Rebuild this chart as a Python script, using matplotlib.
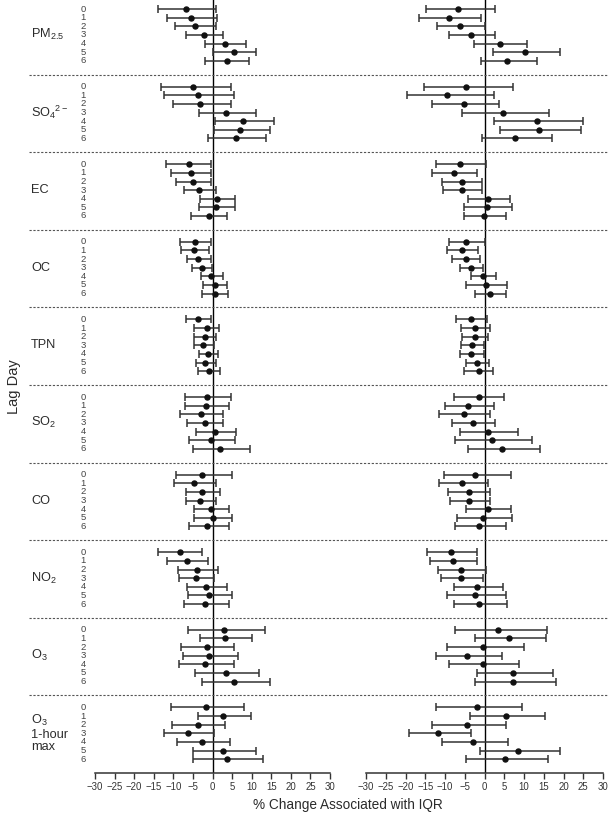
import matplotlib
matplotlib.use("Agg")
import matplotlib.pyplot as plt
from matplotlib.lines import Line2D
from matplotlib.transforms import blended_transform_factory

plt.rcParams["font.family"] = ["Liberation Sans", "DejaVu Sans"]
plt.rcParams["mathtext.fontset"] = "custom"
plt.rcParams["mathtext.rm"] = "Liberation Sans"
plt.rcParams["mathtext.it"] = "Liberation Sans:italic"
plt.rcParams["mathtext.default"] = "regular"

# Data: % change per IQR, lag days 0-6, estimate / lower / upper
pollutants = ["PM$_{2.5}$", "SO$_4$$^{2-}$", "EC", "OC", "TPN", "SO$_2$",
              "CO", "NO$_2$", "O$_3$", "O$_3$\n1-hour\nmax"]
lags = ["0", "1", "2", "3", "4", "5", "6"]

left_est = [
    [-6.8, -5.4, -4.4, -2.2, 3.1, 5.4, 3.7],
    [-4.9, -3.8, -3.1, 3.5, 7.9, 7.1, 6.0],
    [-6.1, -5.6, -5.0, -3.4, 1.2, 1.0, -1.0],
    [-4.5, -4.6, -3.6, -2.7, -0.3, 0.6, 0.6],
    [-3.6, -1.5, -2.0, -2.4, -1.1, -1.8, -1.0],
    [-1.3, -1.6, -2.9, -2.0, 0.6, -0.5, 2.0],
    [-2.6, -4.8, -2.6, -3.1, -0.5, 0.1, -1.3],
    [-8.3, -6.6, -4.0, -4.3, -1.6, -0.9, -1.8],
    [3.0, 3.2, -1.4, -0.8, -1.9, 3.4, 5.6],
    [-1.7, 2.8, -3.7, -6.3, -2.6, 2.8, 3.6],
]
left_lo = [
    [-13.8, -11.5, -9.5, -6.8, -2.0, 0.0, -1.9],
    [-13.1, -12.5, -10.1, -3.4, 0.6, 0.3, -1.1],
    [-11.8, -10.5, -9.4, -7.4, -3.2, -3.4, -5.4],
    [-8.4, -8.0, -6.6, -5.2, -3.0, -2.3, -2.6],
    [-6.8, -4.6, -4.7, -4.8, -3.5, -4.3, -3.7],
    [-7.1, -7.0, -8.2, -6.6, -4.3, -6.0, -5.0],
    [-9.3, -9.9, -6.7, -6.8, -4.7, -4.7, -6.1],
    [-13.9, -11.7, -8.9, -8.6, -6.6, -6.2, -7.3],
    [-6.3, -3.3, -8.0, -7.5, -8.6, -4.5, -2.7],
    [-10.6, -3.6, -10.3, -12.5, -9.1, -4.9, -4.9],
]
left_hi = [
    [0.9, 1.1, 1.0, 2.7, 8.6, 11.1, 9.3],
    [4.7, 5.6, 4.7, 11.0, 15.7, 14.6, 13.6],
    [-0.3, -0.4, -0.3, 1.0, 5.8, 5.7, 3.8],
    [-0.3, -0.9, -0.4, -0.1, 2.6, 3.8, 4.0],
    [-0.3, 1.6, 0.9, 0.3, 1.3, 0.8, 1.9],
    [4.8, 4.2, 2.8, 2.8, 6.0, 5.7, 9.6],
    [4.9, 0.8, 2.0, 1.0, 4.1, 5.1, 4.1],
    [-2.6, -1.1, 1.3, 0.3, 3.7, 4.9, 4.2],
    [13.4, 10.2, 5.6, 6.5, 5.6, 11.9, 14.7],
    [8.1, 9.8, 3.3, 0.3, 4.4, 11.2, 12.9],
]

right_est = [
    [-6.6, -9.1, -6.2, -3.5, 3.8, 10.3, 5.8],
    [-4.7, -9.4, -5.2, 4.6, 13.2, 13.7, 7.8],
    [-6.2, -7.8, -5.8, -5.8, 0.9, 0.6, -0.2],
    [-4.7, -5.6, -4.8, -3.5, -0.4, 0.4, 1.4],
    [-3.4, -2.4, -2.4, -3.2, -3.3, -1.9, -1.5],
    [-1.5, -4.1, -5.2, -3.0, 0.8, 1.8, 4.5],
    [-2.3, -5.6, -4.0, -3.8, 0.8, -0.3, -1.3],
    [-8.4, -8.0, -5.9, -5.9, -1.9, -2.4, -1.3],
    [3.5, 6.2, -0.3, -4.5, -0.5, 7.3, 7.3],
    [-2.0, 5.4, -4.4, -11.7, -2.8, 8.4, 5.1],
]
right_lo = [
    [-14.9, -16.5, -12.0, -9.1, -2.7, 2.2, -0.9],
    [-15.3, -19.7, -13.3, -5.8, 2.5, 4.0, -0.6],
    [-12.4, -13.2, -10.7, -10.6, -4.2, -5.2, -5.3],
    [-9.1, -9.4, -8.3, -6.3, -3.5, -4.6, -2.5],
    [-7.3, -5.9, -5.6, -6.0, -6.2, -4.8, -5.1],
    [-7.6, -10.1, -11.5, -8.3, -6.3, -7.4, -4.3],
    [-10.2, -11.5, -9.2, -8.7, -4.7, -7.0, -7.5],
    [-14.5, -13.7, -11.7, -11.1, -7.7, -9.6, -7.8],
    [-7.4, -2.4, -9.6, -12.4, -8.9, -1.9, -2.4],
    [-12.2, -3.7, -13.2, -19.2, -10.8, -1.1, -4.7],
]
right_hi = [
    [2.7, -0.9, 0.1, 2.6, 10.8, 19.0, 13.2],
    [7.3, 2.4, 3.7, 16.4, 25.0, 24.4, 17.1],
    [0.4, -2.0, -0.6, -0.6, 6.5, 7.0, 5.5],
    [0.0, -1.6, -1.2, -0.4, 3.0, 5.7, 5.4],
    [0.7, 1.3, 0.8, -0.2, -0.1, 1.1, 2.2],
    [5.0, 2.5, 1.4, 2.7, 8.5, 12.0, 14.1],
    [6.8, 0.8, 1.5, 1.5, 6.8, 6.9, 5.4],
    [-1.9, -1.9, 0.3, -0.3, 4.6, 5.5, 5.8],
    [15.8, 15.6, 9.9, 4.4, 8.8, 17.4, 18.0],
    [9.4, 15.4, 5.5, -3.4, 5.9, 19.0, 16.1],
]

W, H = 612, 817
fig = plt.figure(figsize=(W / 100, H / 100), dpi=100)
ax_l = fig.add_axes([95 / W, 44 / H, 235 / W, 773 / H])
ax_r = fig.add_axes([366 / W, 44 / H, 237 / W, 773 / H])

text_col = "#2b2b2b"
bar_col = "#333333"
n_lag = len(lags)
step = n_lag + 2  # rows per group incl. gap

for ax, est, lo, hi in [(ax_l, left_est, left_lo, left_hi),
                        (ax_r, right_est, right_lo, right_hi)]:
    for g in range(len(pollutants)):
        ys = [g * step + k for k in range(n_lag)]
        xe = [[e - l for e, l in zip(est[g], lo[g])],
              [h - e for e, h in zip(est[g], hi[g])]]
        ax.errorbar(est[g], ys, xerr=xe, fmt="o", color=bar_col, ecolor=bar_col,
                    markersize=3.6, markerfacecolor="#111111", markeredgecolor="#111111",
                    elinewidth=1.1, capsize=3.2, capthick=1.1)
    ax.axvline(0, color="black", lw=1.0, zorder=0)
    ax.set_xlim(-30, 30)
    ax.set_ylim(88.6, -1.05)
    ax.set_xticks(range(-30, 31, 5))
    ax.set_yticks([])
    for s in ["left", "right", "top"]:
        ax.spines[s].set_visible(False)
    ax.spines["bottom"].set_linewidth(1.1)
    ax.spines["bottom"].set_color("#333333")
    ax.tick_params(axis="x", direction="out", length=4, width=1.0, colors="#333333",
                   labelsize=6.9, pad=2.5)
    ax.patch.set_alpha(0)

# dashed separators spanning both panels, in figure coords
to_fig = ax_l.transData + fig.transFigure.inverted()
for g in range(len(pollutants) - 1):
    ysep = g * step + n_lag - 1 + 1.6
    yf = to_fig.transform((0, ysep))[1]
    fig.add_artist(Line2D([29 / W, 608 / W], [yf, yf], color="#555555", lw=0.8,
                          linestyle=(0, (2, 1.5))))

# pollutant names and lag-day numbers
tr = blended_transform_factory(fig.transFigure, ax_l.transData)
for g, name in enumerate(pollutants):
    ax_l.text(31 / W, g * step + 3, name, transform=tr, ha="left", va="center",
              fontsize=9.2, color=text_col, linespacing=1.05, clip_on=False)
    for k, lab in enumerate(lags):
        ax_l.text(83 / W, g * step + k, lab, transform=tr, ha="center", va="center",
                  fontsize=6.8, color="#444444", clip_on=False)

fig.text(14 / W, 1 - 387 / H, "Lag Day", rotation=90, ha="center", va="center",
         fontsize=10.5, color=text_col)
fig.text(348 / W, 1 - 805 / H, "% Change Associated with IQR", ha="center",
         va="center", fontsize=9.8, color=text_col)

fig.savefig("out.png", dpi=100)
